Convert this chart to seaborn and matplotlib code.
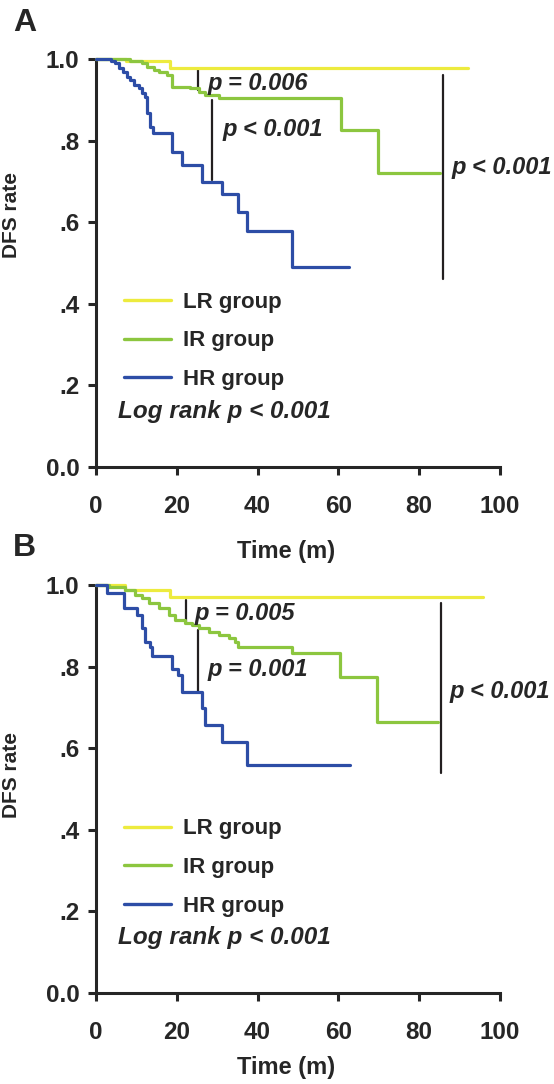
import numpy as np
import pandas as pd
import matplotlib
matplotlib.use("Agg")
import matplotlib.pyplot as plt
import seaborn as sns

# ---------------- data ----------------
groups = ["LR group", "IR group", "HR group"]
colors = ["#EDEB3E", "#8CC63F", "#2D4DA6"]

# Panel A
a_lr_t = [0, 7.5, 18.3, 92.0]
a_lr_s = [1.0, 0.995, 0.977, 0.977]
a_ir_t = [0, 8.5, 11.4, 12.6, 14.3, 15.5, 17.6, 18.8, 23.3, 25.4, 27.0, 30.4, 60.6, 69.8, 85.1]
a_ir_s = [1.0, 0.995, 0.989, 0.981, 0.973, 0.969, 0.961, 0.932, 0.928, 0.920, 0.912, 0.904, 0.826, 0.721, 0.721]
a_hr_t = [0, 3.7, 4.8, 5.6, 6.8, 7.7, 8.5, 9.3, 10.6, 11.4, 12.2, 12.6, 13.4, 14.0, 18.8, 21.3, 26.2, 31.2, 35.1, 37.4, 48.5, 62.5]
a_hr_s = [1.0, 0.995, 0.989, 0.977, 0.969, 0.957, 0.949, 0.936, 0.928, 0.916, 0.908, 0.868, 0.834, 0.819, 0.772, 0.740, 0.699, 0.669, 0.625, 0.578, 0.490, 0.490]

# Panel B
b_lr_t = [0, 7.2, 18.4, 95.8]
b_lr_s = [1.0, 0.988, 0.971, 0.971]
b_ir_t = [0, 3.1, 7.3, 9.7, 11.4, 13.0, 15.5, 18.0, 19.6, 22.1, 23.8, 25.4, 27.9, 30.4, 32.8, 34.5, 35.2, 48.4, 60.4, 69.5, 84.7]
b_ir_s = [1.0, 0.996, 0.988, 0.975, 0.967, 0.955, 0.943, 0.926, 0.914, 0.906, 0.902, 0.894, 0.886, 0.877, 0.869, 0.861, 0.849, 0.833, 0.775, 0.665, 0.665]
b_hr_t = [0, 2.7, 6.9, 10.1, 11.4, 12.2, 13.4, 13.8, 18.9, 20.4, 21.3, 26.2, 27.0, 31.1, 37.3, 62.9]
b_hr_s = [1.0, 0.980, 0.944, 0.926, 0.895, 0.861, 0.849, 0.825, 0.795, 0.780, 0.738, 0.698, 0.657, 0.616, 0.559, 0.559]

# annotation brackets: (time, y_top, y_bottom)
a_brackets = [(25.3, 0.973, 0.924), (28.6, 0.900, 0.703), (86.0, 0.961, 0.461)]
b_brackets = [(22.4, 0.963, 0.910), (25.3, 0.890, 0.738), (85.5, 0.955, 0.538)]
# p-value labels: (time, y, text)
a_labels = [(27.7, 0.941, "p = 0.006"), (31.2, 0.826, "p < 0.001"), (88.0, 0.733, "p < 0.001")]
b_labels = [(24.5, 0.931, "p = 0.005"), (27.7, 0.794, "p = 0.001"), (87.6, 0.740, "p < 0.001")]
logrank_text = "Log rank p < 0.001"
x_ticks = [0, 20, 40, 60, 80, 100]
y_ticks = [0.0, 0.2, 0.4, 0.6, 0.8, 1.0]
y_ticklabels = ["0.0", ".2", ".4", ".6", ".8", "1.0"]

# ---------------- style ----------------
sns.set_style("ticks")
plt.rcParams["font.family"] = ["Liberation Sans", "DejaVu Sans"]
plt.rcParams["font.weight"] = "bold"
plt.rcParams["axes.labelweight"] = "bold"

W, H = 554, 1084
fig = plt.figure(figsize=(W / 100, H / 100), dpi=100)
axA = fig.add_axes([96 / W, (H - 467) / H, 404 / W, 408 / H])
axB = fig.add_axes([96 / W, (H - 993) / H, 404 / W, 408 / H])


def make_df(lr_t, lr_s, ir_t, ir_s, hr_t, hr_s):
    parts = []
    for g, t, s in zip(groups, [lr_t, ir_t, hr_t], [lr_s, ir_s, hr_s]):
        parts.append(pd.DataFrame({"Time": t, "DFS": s, "group": g}))
    return pd.concat(parts, ignore_index=True)


def draw(ax, df, brackets, labels, legend_top, xlab_y, ylab_y):
    sns.lineplot(data=df, x="Time", y="DFS", hue="group", hue_order=groups,
                 palette=colors, drawstyle="steps-post", estimator=None,
                 linewidth=2.3, ax=ax, legend=False, clip_on=False, zorder=3)
    for t, y0, y1 in brackets:
        ax.plot([t, t], [y0, y1], color="#231F20", lw=1.6, zorder=2)
    for t, y, s in labels:
        ax.text(t, y, s, fontsize=17, fontweight="bold", fontstyle="italic",
                va="center", ha="left")
    handles = [plt.Line2D([], [], color=c, lw=2.4) for c in colors]
    ax.legend(handles, groups, loc="upper left", bbox_to_anchor=(0.069, legend_top),
              frameon=False, fontsize=16, handlelength=2.1, handletextpad=0.55,
              labelspacing=0.8, borderpad=0, borderaxespad=0)
    ax.text(5.4, 0.137, logrank_text, fontsize=17.5, fontweight="bold",
            fontstyle="italic", va="center", ha="left")
    ax.set_xlim(0, 100)
    ax.set_ylim(0, 1.0)
    ax.set_xticks(x_ticks)
    ax.set_yticks(y_ticks)
    ax.set_yticklabels(y_ticklabels)
    ax.tick_params(axis="both", labelsize=17.5, width=2.2, length=6)
    ax.tick_params(axis="x", pad=14)
    ax.tick_params(axis="y", pad=6)
    for sp in ["left", "bottom"]:
        ax.spines[sp].set_linewidth(2.2)
    sns.despine(ax=ax)
    ax.set_xlabel("Time (m)", fontsize=17, fontweight="bold")
    ax.set_ylabel("DFS rate", fontsize=15, fontweight="bold")
    ax.xaxis.set_label_coords(0.47, xlab_y)
    ax.yaxis.set_label_coords(-0.185, ylab_y)


draw(axA, make_df(a_lr_t, a_lr_s, a_ir_t, a_ir_s, a_hr_t, a_hr_s), a_brackets, a_labels,
     0.43, -0.178, 0.618)
draw(axB, make_df(b_lr_t, b_lr_s, b_ir_t, b_ir_s, b_hr_t, b_hr_s), b_brackets, b_labels,
     0.428, -0.155, 0.534)

fig.text(13 / W, 1 - 23 / H, "A", fontsize=23, fontweight="bold", va="center", ha="left")
fig.text(13 / W, 1 - 548 / H, "B", fontsize=23, fontweight="bold", va="center", ha="left")

fig.savefig("out.png", dpi=100)
